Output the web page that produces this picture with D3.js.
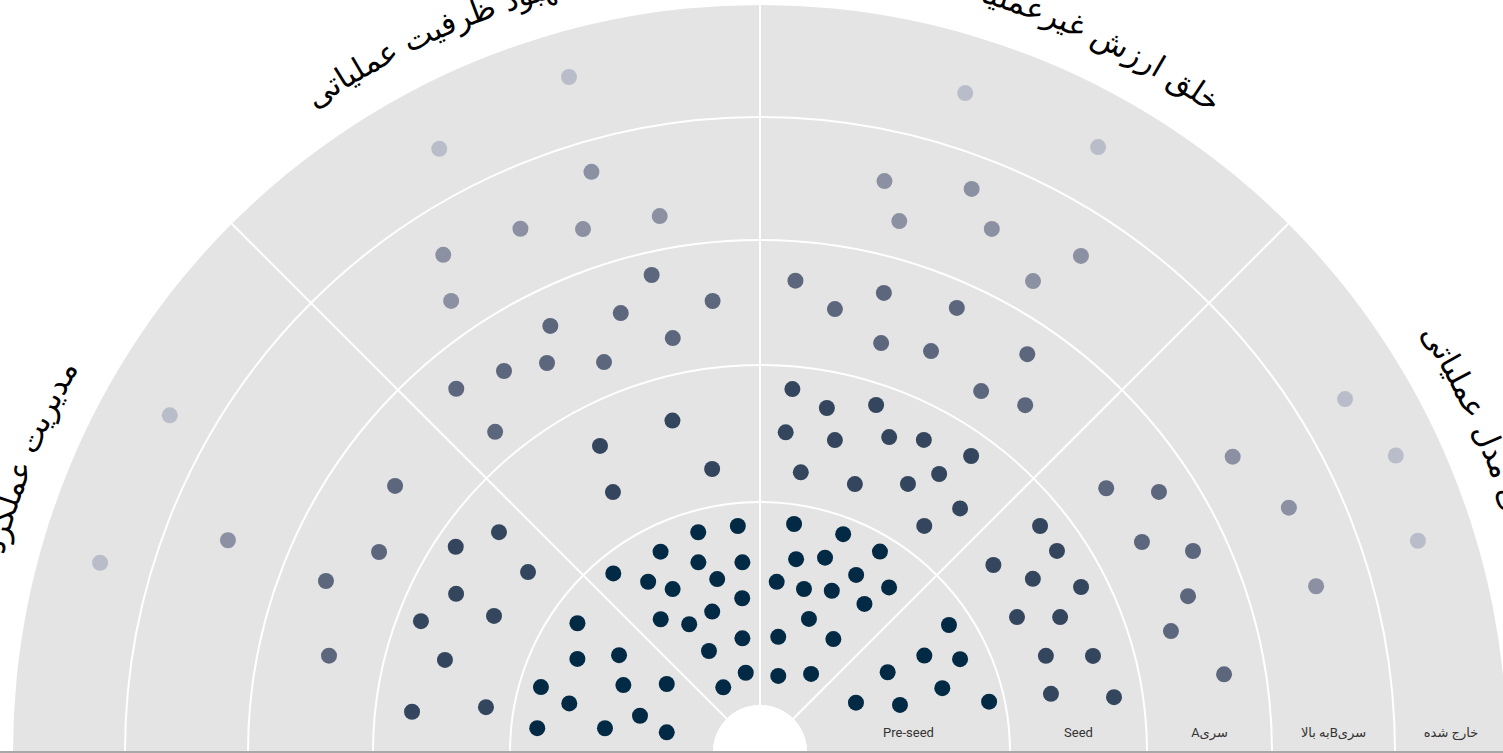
<!DOCTYPE html>
<html lang="fa">
<head>
<meta charset="utf-8">
<script src="https://cdn.jsdelivr.net/npm/d3@7"></script>
<style>
  html, body { margin: 0; padding: 0; background: #ffffff; overflow: hidden; }
  svg { display: block; }
</style>
</head>
<body>
<svg id="chart" width="1503" height="753"></svg>
<script>
// Investment stages (rings, inside out) and thematic sectors (wedges, left to right)
const stages = ["Pre-seed", "Seed", "سریA", "سریBبه بالا", "خارج شده"];
const sectors = ["مدیریت عملکرد", "بهبود ظرفیت عملیاتی", "خلق ارزش غیرعملیاتی", "طراحی مدل عملیاتی"];

// Each company: [angle in degrees (-90 left .. 90 right), maturity value on the stage axis 0..5]
const preSeed = [
  [-54.8, 0.869], [-63.0, 0.778], [-55.5, 0.611], [-73.5, 0.894], [-75.7, 0.738], [-63.9, 0.518],
  [-53.9, 0.337], [-83.9, 0.872], [-81.3, 0.541], [-73.2, 0.386], [-78.1, 0.238],
  [-15.7, 0.893], [-5.6, 0.887], [-26.4, 0.870], [-18.0, 0.751], [-5.3, 0.707], [-39.4, 0.907],
  [-33.3, 0.772], [-28.2, 0.679], [-13.9, 0.646], [-6.6, 0.531], [-18.8, 0.499], [-36.8, 0.585],
  [-29.0, 0.488], [-8.8, 0.335], [-26.8, 0.326], [-10.2, 0.165], [-29.6, 0.135],
  [8.5, 0.904], [20.9, 0.917], [10.6, 0.735], [18.5, 0.778], [30.9, 0.919], [5.6, 0.611],
  [15.1, 0.600], [24.0, 0.638], [28.5, 0.761], [38.1, 0.799], [35.2, 0.661], [20.2, 0.467],
  [9.0, 0.343], [33.0, 0.432], [13.5, 0.154], [33.2, 0.228],
  [56.1, 0.890], [59.6, 0.707], [65.1, 0.855], [58.0, 0.510], [70.7, 0.720], [62.8, 0.300],
  [71.4, 0.496], [77.6, 0.924]
];
const seed = [
  [-56.0, 1.854], [-49.9, 1.666], [-62.5, 1.676], [-52.2, 1.318], [-68.9, 1.828], [-62.9, 1.356],
  [-73.7, 1.571], [-83.4, 1.732], [-80.7, 1.202],
  [-14.8, 1.677], [-27.6, 1.696], [-9.6, 1.270], [-29.5, 1.355],
  [5.1, 1.835], [11.0, 1.733], [18.5, 1.846], [4.6, 1.516], [13.5, 1.517], [22.3, 1.660],
  [27.7, 1.748], [35.5, 1.829], [8.3, 1.238], [19.5, 1.250], [28.9, 1.410], [32.8, 1.589],
  [39.4, 1.476], [36.0, 1.215],
  [51.1, 1.802], [55.9, 1.793], [51.3, 1.358], [57.6, 1.534], [62.8, 1.810], [62.3, 1.294],
  [65.8, 1.577], [71.4, 1.377], [73.9, 1.705], [78.7, 1.341], [81.2, 1.790]
];
const seriesA = [
  [-53.9, 2.517], [-62.3, 2.346], [-68.5, 2.636], [-77.4, 2.437],
  [-12.8, 2.817], [-6.0, 2.532], [-17.6, 2.588], [-26.2, 2.703], [-11.9, 2.288], [-33.9, 2.576],
  [-28.7, 2.452], [-21.8, 2.264], [-39.9, 2.692], [-39.6, 2.228],
  [4.3, 2.685], [9.6, 2.498], [15.1, 2.708], [23.9, 2.790], [16.5, 2.316], [23.1, 2.391],
  [33.9, 2.738], [31.5, 2.290], [37.4, 2.397],
  [52.7, 2.386], [56.9, 2.714], [61.2, 2.391], [65.1, 2.723], [70.0, 2.548], [73.6, 2.331],
  [80.5, 2.668]
];
const seriesB = [
  [-68.3, 3.493],
  [-32.5, 3.630], [-34.4, 3.282], [-24.6, 3.516], [-18.7, 3.326], [-10.6, 3.270], [-16.2, 3.749],
  [12.3, 3.588], [20.6, 3.728], [14.7, 3.300], [23.9, 3.489], [32.9, 3.641], [30.1, 3.263],
  [58.0, 3.369], [65.2, 3.574], [73.4, 3.555]
];
const exited = [
  [-60.3, 4.397], [-74.0, 4.460],
  [-28.0, 4.430], [-15.8, 4.594],
  [17.3, 4.492], [29.2, 4.518],
  [58.9, 4.431], [65.0, 4.594], [72.2, 4.500]
];

const stageSeries = [preSeed, seed, seriesA, seriesB, exited];
const stageColors = ["#032a45", "#34465e", "#5c677e", "#8b91a3", "#b9bdca"];

// ---- layout ----
const svg = d3.select("#chart");
const cx = 760, cy = 752;

// stage axis -> radius (rings are not evenly spaced)
const rScale = d3.scaleLinear()
  .domain([0, 1, 2, 3, 4, 5])
  .range([47, 250, 387, 512, 635, 747]);

// angle axis (degrees) -> radians, 0 = straight up, clockwise positive
const aScale = d3.scaleLinear().domain([-90, 90]).range([-Math.PI / 2, Math.PI / 2]);

const sectorScale = d3.scaleLinear().domain([0, sectors.length]).range([-90, 90]);

const px = (a, r) => cx + r * Math.sin(a);
const py = (a, r) => cy - r * Math.cos(a);

const g = svg.append("g");

// background half-disc
g.append("path")
  .attr("transform", `translate(${cx},${cy})`)
  .attr("d", d3.arc()({
    innerRadius: rScale(0), outerRadius: rScale(5),
    startAngle: aScale(-90), endAngle: aScale(90)
  }))
  .attr("fill", "#e4e4e4");

// ring boundaries between stages
g.selectAll(".ring")
  .data([1, 2, 3, 4])
  .join("path")
  .attr("class", "ring")
  .attr("transform", `translate(${cx},${cy})`)
  .attr("d", d => d3.arc()({
    innerRadius: rScale(d), outerRadius: rScale(d),
    startAngle: aScale(-90), endAngle: aScale(90)
  }))
  .attr("fill", "none")
  .attr("stroke", "#ffffff")
  .attr("stroke-width", 2);

// spokes between sectors
g.selectAll(".spoke")
  .data(d3.range(1, sectors.length))
  .join("line")
  .attr("class", "spoke")
  .attr("x1", d => px(aScale(sectorScale(d)), rScale(0)))
  .attr("y1", d => py(aScale(sectorScale(d)), rScale(0)))
  .attr("x2", d => px(aScale(sectorScale(d)), rScale(5)))
  .attr("y2", d => py(aScale(sectorScale(d)), rScale(5)))
  .attr("stroke", "#ffffff")
  .attr("stroke-width", 2);

// inner hole
g.append("circle")
  .attr("cx", cx).attr("cy", cy)
  .attr("r", rScale(0))
  .attr("fill", "#ffffff");

// company dots
stageSeries.forEach((series, i) => {
  g.append("g")
    .selectAll("circle")
    .data(series)
    .join("circle")
    .attr("cx", d => px(aScale(d[0]), rScale(d[1])))
    .attr("cy", d => py(aScale(d[0]), rScale(d[1])))
    .attr("r", 8)
    .attr("fill", stageColors[i]);
});

// stage labels along the baseline
g.selectAll(".stage-label")
  .data(stages)
  .join("text")
  .attr("class", "stage-label")
  .attr("x", (d, i) => cx + (rScale(i) + rScale(i + 1)) / 2)
  .attr("y", 737)
  .attr("text-anchor", "middle")
  .attr("direction", "rtl")
  .attr("font-family", "Roboto, 'DejaVu Sans', sans-serif")
  .attr("font-size", 13)
  .attr("fill", "#333333")
  .text(d => d);

// sector titles curved along the outer edge, nudged slightly away from the centre line
const labelR = 782;
const labelNudge = [-0.5, -2, 2, 0];
const defs = svg.append("defs");
sectors.forEach((name, i) => {
  const mid = (sectorScale(i) + sectorScale(i + 1)) / 2 + labelNudge[i];
  const a0 = aScale(mid - 40), a1 = aScale(mid + 40);
  defs.append("path")
    .attr("id", "sector-path-" + i)
    .attr("d", `M${px(a0, labelR)},${py(a0, labelR)} A${labelR},${labelR} 0 0 1 ${px(a1, labelR)},${py(a1, labelR)}`);
});

g.selectAll(".sector-label")
  .data(sectors)
  .join("text")
  .attr("class", "sector-label")
  .attr("font-family", "'DejaVu Sans', sans-serif")
  .attr("font-size", 31)
  .attr("fill", "#000000")
  .append("textPath")
  .attr("href", (d, i) => "#sector-path-" + i)
  .attr("startOffset", "50%")
  .attr("text-anchor", "middle")
  .text(d => d);

// bottom rule
svg.append("rect")
  .attr("x", 0).attr("y", 751)
  .attr("width", 1503).attr("height", 2)
  .attr("fill", "#a8a8a8");
</script>
</body>
</html>
